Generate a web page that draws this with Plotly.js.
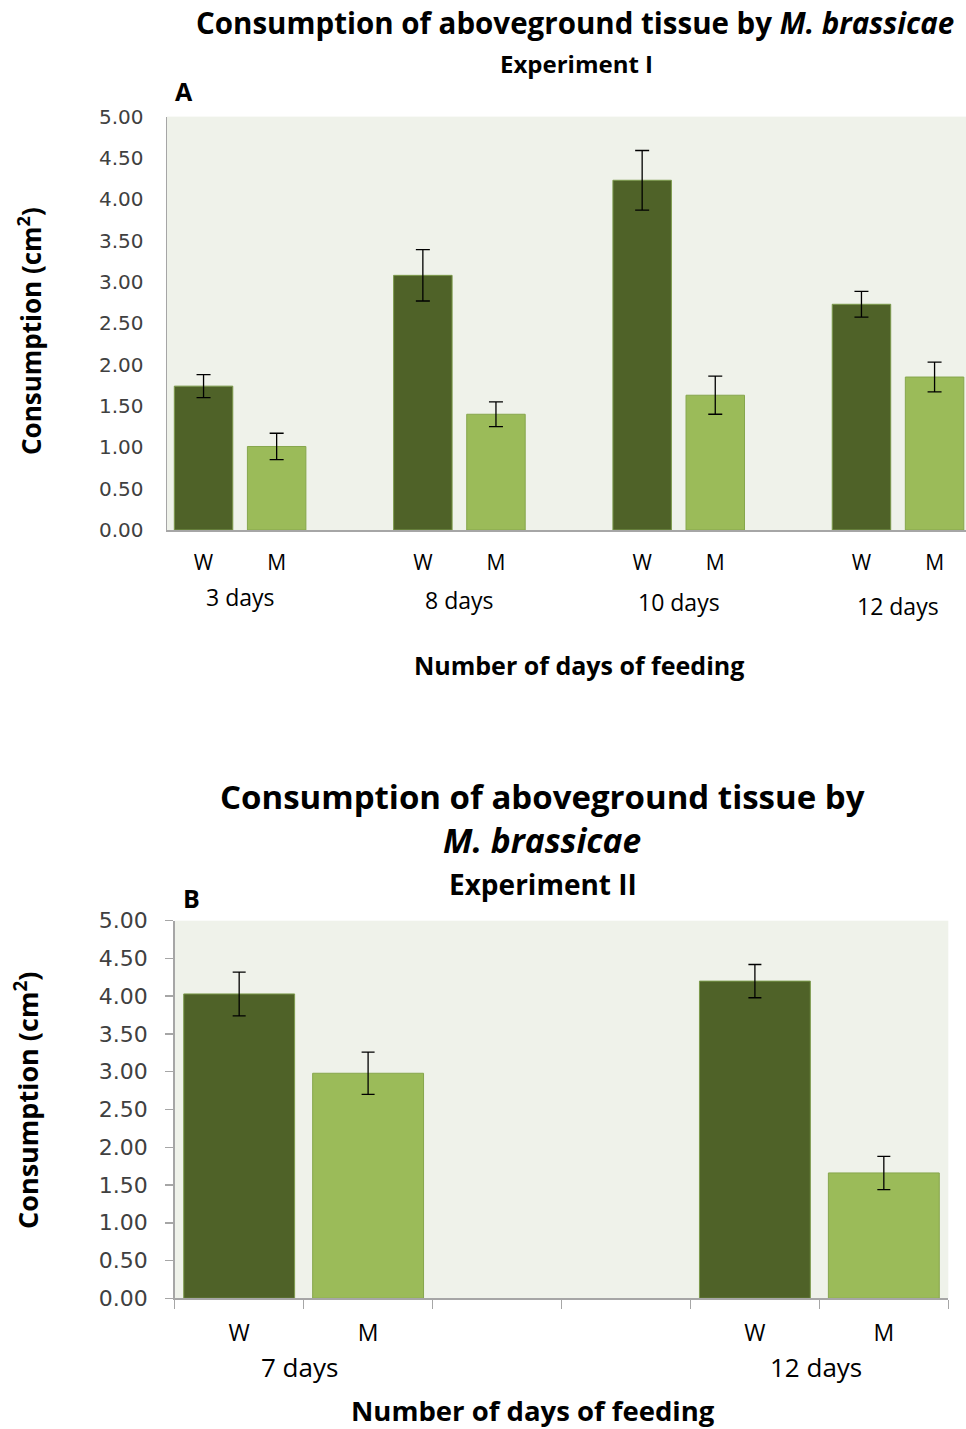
<!DOCTYPE html>
<html><head><meta charset="utf-8">
<script src="https://cdn.plot.ly/plotly-3.0.1.min.js"></script>
<style>html,body{margin:0;padding:0;background:#fff}</style>
</head><body><div id="chart" style="width:966px;height:1429px"></div>
<script>
// ---------- data ----------
const typeLabels = ['W', 'M'];
const groupsA = ['3 days', '8 days', '10 days', '12 days'];
const wildA = [1.74, 3.08, 4.23, 2.73];
const wildErrA = [0.14, 0.31, 0.36, 0.155];
const mutA = [1.01, 1.40, 1.63, 1.85];
const mutErrA = [0.16, 0.15, 0.23, 0.18];

const groupsB = ['7 days', '12 days'];
const wildB = [4.03, 4.20];
const wildErrB = [0.29, 0.22];
const mutB = [2.98, 1.66];
const mutErrB = [0.28, 0.22];

// ---------- layout helpers ----------
const W = 966, H = 1429;
const px = v => v / W;
const py = v => 1 - v / H;
const CAL = 'Open Sans, sans-serif';
const DV = 'DejaVu Sans, sans-serif';
const DARK = '#4F6228', LIGHT = '#9BBB59';
const AXC = '#A6A6A6';

const strideA = 3, strideB = 4;
const wPosA = groupsA.map((g, i) => i * strideA);
const mPosA = groupsA.map((g, i) => i * strideA + 1);
const wPosB = groupsB.map((g, i) => i * strideB);
const mPosB = groupsB.map((g, i) => i * strideB + 1);

function barTrace(x, y, err, color, line, xa, ya, width, capw) {
  return {
    type: 'bar', x: x, y: y, xaxis: xa, yaxis: ya, width: width,
    marker: {color: color, line: {color: line, width: 1}},
    error_y: {type: 'data', array: err, visible: true, color: '#000', thickness: 1.3, width: capw},
    showlegend: false, hoverinfo: 'skip'
  };
}

const data = [
  barTrace(wPosA, wildA, wildErrA, DARK, '#7C9A4C', 'x', 'y', 0.8, 7),
  barTrace(mPosA, mutA, mutErrA, LIGHT, '#86A64C', 'x', 'y', 0.8, 7),
  barTrace(wPosB, wildB, wildErrB, DARK, '#7C9A4C', 'x2', 'y2', 0.86, 6.5),
  barTrace(mPosB, mutB, mutErrB, LIGHT, '#86A64C', 'x2', 'y2', 0.86, 6.5)
];

const tickPosA = [].concat(...groupsA.map((g, i) => [i * strideA, i * strideA + 1]));
const tickTextA = [].concat(...groupsA.map(() => typeLabels));
const tickPosB = [].concat(...groupsB.map((g, i) => [i * strideB, i * strideB + 1]));
const tickTextB = [].concat(...groupsB.map(() => typeLabels));

const groupLabelYA = [597, 600, 602, 606];
const groupLabelYB = [1367, 1367];

const annotations = [];
function ann(text, xp, ypx, size, opts) {
  annotations.push(Object.assign({
    text: text, xref: 'paper', yref: 'paper', x: px(xp), y: py(ypx),
    xanchor: 'center', yanchor: 'middle', showarrow: false,
    font: {family: CAL, size: size, color: '#000'}
  }, opts || {}));
}
// Panel A texts
ann('<b>Consumption of aboveground tissue by <i>M. brassicae</i></b>', 575, 23, 29.5);
ann('<b>Experiment I</b>', 576, 63, 24);
ann('<b>A</b>', 184, 91, 25);
ann('<b>Number of days of feeding</b>', 579, 665, 25);
ann('<b>Consumption (cm<sup>2</sup>)</b>', 30, 331, 26, {textangle: -90});
groupsA.forEach((g, i) => {
  annotations.push({text: g, xref: 'x', yref: 'paper', x: i * strideA + 0.5, y: py(groupLabelYA[i]),
    xanchor: 'center', yanchor: 'middle', showarrow: false, font: {family: CAL, size: 23, color: '#000'}});
});
// Panel B texts
ann('<b>Consumption of aboveground tissue by</b>', 542, 796, 33);
ann('<b><i>M. brassicae</i></b>', 542, 840, 33.5);
ann('<b>Experiment II</b>', 543, 884, 28);
ann('<b>B</b>', 191, 898, 25);
ann('<b>Number of days of feeding</b>', 533, 1410, 27.5);
ann('<b>Consumption (cm<sup>2</sup>)</b>', 26, 1101, 27, {textangle: -90});
groupsB.forEach((g, i) => {
  annotations.push({text: g, xref: 'x2', yref: 'paper', x: i * strideB + 0.47, y: py(groupLabelYB[i]),
    xanchor: 'center', yanchor: 'middle', showarrow: false, font: {family: CAL, size: 26, color: '#000'}});
});

const layout = {
  width: W, height: H,
  margin: {l: 0, r: 0, t: 0, b: 0},
  paper_bgcolor: '#fff', plot_bgcolor: '#EFF2EA',
  barmode: 'overlay', showlegend: false,
  xaxis: {
    domain: [px(167), 1], range: [-0.5, 10.43], anchor: 'y',
    showline: true, linecolor: AXC, linewidth: 1.5, showgrid: false, zeroline: false,
    tickmode: 'array', tickvals: tickPosA, ticktext: tickTextA, ticks: '',
    ticklabelstandoff: 13, tickfont: {family: CAL, size: 21, color: '#000'}, fixedrange: true
  },
  yaxis: {
    domain: [py(530), py(116.6)], range: [0, 5], anchor: 'x',
    showline: true, linecolor: AXC, linewidth: 1.5, showgrid: false, zeroline: false,
    tick0: 0, dtick: 0.5, tickformat: '.2f', ticks: '',
    ticklabelstandoff: 18, tickfont: {family: DV, size: 20, color: '#404040'}, fixedrange: true
  },
  xaxis2: {
    domain: [px(174.7), px(948.3)], range: [-0.5, 5.5], anchor: 'y2',
    showline: true, linecolor: AXC, linewidth: 1.5, showgrid: false, zeroline: false,
    tickmode: 'array', tickvals: tickPosB, ticktext: tickTextB, ticks: '',
    minor: {tick0: -0.5, dtick: 1, ticks: 'outside', ticklen: 9, tickwidth: 1.5, tickcolor: AXC, showgrid: false},
    ticklabelstandoff: 14, tickfont: {family: CAL, size: 23, color: '#000'}, fixedrange: true
  },
  yaxis2: {
    domain: [py(1298.3), py(920.7)], range: [0, 5], anchor: 'x2',
    showline: true, linecolor: AXC, linewidth: 1.5, showgrid: false, zeroline: false,
    tick0: 0, dtick: 0.5, tickformat: '.2f', ticks: 'outside', ticklen: 8, tickwidth: 1.5, tickcolor: AXC,
    ticklabelstandoff: 13, tickfont: {family: DV, size: 22, color: '#404040'}, fixedrange: true
  },
  annotations: annotations
};

Plotly.newPlot('chart', data, layout, {staticPlot: true, displayModeBar: false});
</script></body></html>
